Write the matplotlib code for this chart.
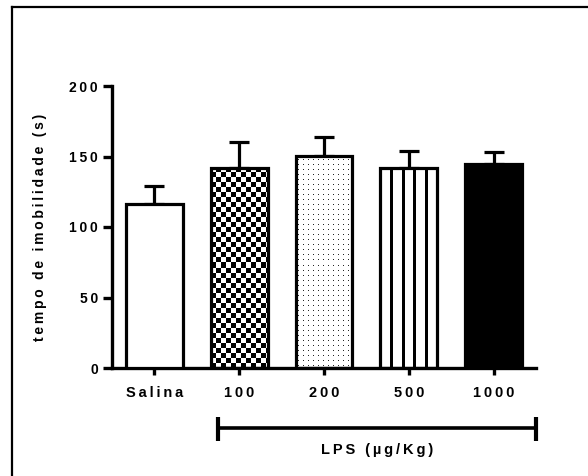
import numpy as np
import matplotlib
matplotlib.use("Agg")
import matplotlib.pyplot as plt
import matplotlib.transforms as mtransforms
from matplotlib.lines import Line2D

plt.rcParams['font.family'] = ['Liberation Sans', 'DejaVu Sans']
plt.rcParams['font.weight'] = 'bold'

# dados
grupos = ["Salina", "100", "200", "500", "1000"]
medias = [116, 142, 150.5, 142, 145]
erros = [13, 18, 13.5, 12, 8]
yticks = [0, 50, 100, 150, 200]
lps_inicio, lps_fim = 0.75, 4.5


def espacado(s, sep="\u2009"):
    # imitar o espaçamento de letras do GraphPad
    return (sep + " " + sep).join(sep.join(p) for p in s.split(" "))


fig = plt.figure(figsize=(5.88, 4.76), dpi=100)
ax = fig.add_axes([112 / 588, 108 / 476, 424 / 588, 282 / 476])

x = np.arange(len(grupos))
largura = 0.67
faces = ["white", "none", "none", "none", "black"]
barras = ax.bar(x, medias, width=largura, color=faces, edgecolor="black",
                linewidth=2.3, zorder=3)
ax.errorbar(x, medias, yerr=[np.zeros(len(erros)), erros], fmt="none",
            ecolor="black", elinewidth=2.3, capsize=7, capthick=2.3, zorder=2)

ax.set_xlim(-0.5, 4.5)
ax.set_ylim(0, 200)


def textura(barra, tipo):
    # desenha a textura em resolução de pixel dentro da barra
    x0, y0 = barra.get_x(), barra.get_y()
    x1, y1 = x0 + barra.get_width(), y0 + barra.get_height()
    p0 = ax.transData.transform((x0, y0))
    p1 = ax.transData.transform((x1, y1))
    w = int(round(p1[0] - p0[0]))
    h = int(round(p1[1] - p0[1]))
    jj, ii = np.meshgrid(np.arange(w), np.arange(h))
    img = np.ones((h, w))
    if tipo == "xadrez":
        c = 5
        img = (((ii // c) + (jj // c)) % 2).astype(float)
    elif tipo == "pontos":
        img[(ii % 5 == 2) & (jj % 5 == 2)] = 0.15
    elif tipo == "listras":
        for k in range(1, 5):
            centro = w * k / 5
            img[:, (jj[0] >= centro - 1.5) & (jj[0] < centro + 1.5)] = 0
    im = ax.imshow(img, cmap="gray", vmin=0, vmax=1, extent=(x0, x1, y0, y1),
                   origin="lower", interpolation="nearest", aspect="auto",
                   zorder=2.5)
    im.set_clip_path(barra)


textura(barras[1], "xadrez")
textura(barras[2], "pontos")
textura(barras[3], "listras")
ax.set_xlim(-0.5, 4.5)
ax.set_ylim(0, 200)

for lado in ["top", "right"]:
    ax.spines[lado].set_visible(False)
for lado in ["left", "bottom"]:
    ax.spines[lado].set_linewidth(2.4)

ax.set_yticks(yticks)
ax.set_yticklabels([espacado(str(t)) for t in yticks])
ax.set_xticks(x)
ax.set_xticklabels([espacado(g) for g in grupos])
ax.tick_params(axis="y", length=6.5, width=2.4, pad=3.5, labelsize=10)
ax.tick_params(axis="x", length=5, width=2.4, pad=8, labelsize=10.5)

ax.set_ylabel(espacado("tempo de imobilidade (s)"), fontsize=10, fontweight="bold")
ax.yaxis.set_label_coords(-0.153, 0.5)

# barra do LPS
trans = mtransforms.blended_transform_factory(ax.transData, ax.transAxes)
ax.plot([lps_inicio, lps_fim], [-0.2128, -0.2128], color="black", lw=2.6,
        transform=trans, clip_on=False, solid_capstyle="butt")
for xx in [lps_inicio, lps_fim]:
    ax.plot([xx, xx], [-0.174, -0.259], color="black", lw=3,
            transform=trans, clip_on=False, solid_capstyle="butt")
ax.text((lps_inicio + lps_fim) / 2, -0.291, espacado("LPS (µg/Kg)"),
        transform=trans, ha="center", va="center", fontsize=10.5,
        fontweight="bold")

# moldura
fig.add_artist(Line2D([12 / 588, 12 / 588], [0, 1 - 6.7 / 476],
                      transform=fig.transFigure, color="black", lw=1.6))
fig.add_artist(Line2D([12 / 588, 1], [1 - 6.7 / 476, 1 - 6.7 / 476],
                      transform=fig.transFigure, color="black", lw=1.6))

fig.savefig("out.png", dpi=100)
